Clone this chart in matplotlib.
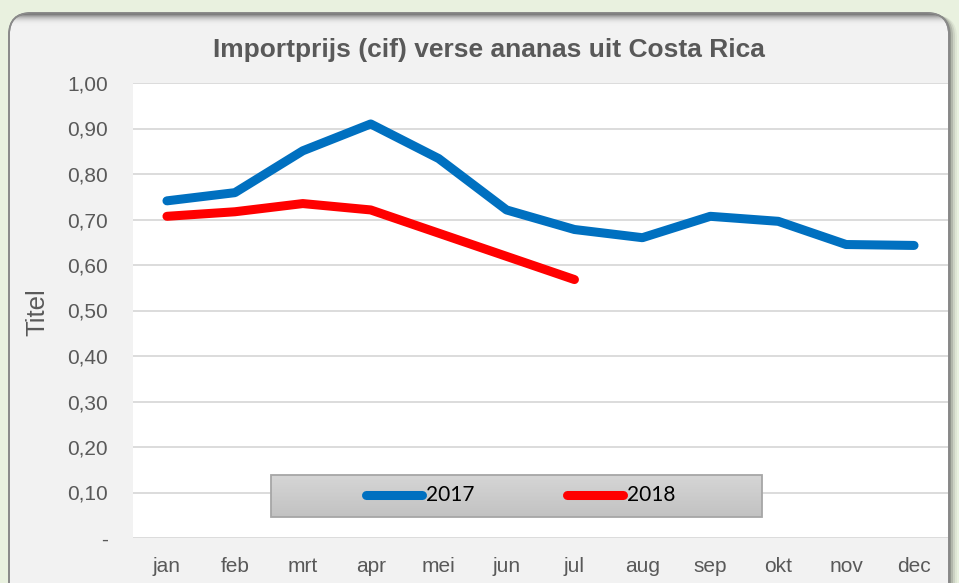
import matplotlib
matplotlib.use("Agg")
import matplotlib.pyplot as plt
from matplotlib.patches import FancyBboxPatch, Rectangle
from matplotlib.lines import Line2D
import numpy as np

months = ["jan", "feb", "mrt", "apr", "mei", "jun", "jul", "aug", "sep", "okt", "nov", "dec"]
prices_2017 = [0.741, 0.759, 0.851, 0.910, 0.834, 0.721, 0.678, 0.660, 0.707, 0.696, 0.645, 0.643]
prices_2018 = [0.707, 0.717, 0.735, 0.721, 0.670, 0.619, 0.568]
yticks = [0.0, 0.1, 0.2, 0.3, 0.4, 0.5, 0.6, 0.7, 0.8, 0.9, 1.0]
ytick_labels = ["-", "0,10", "0,20", "0,30", "0,40", "0,50", "0,60", "0,70", "0,80", "0,90", "1,00"]

W, H = 959, 583
fig = plt.figure(figsize=(W / 100, H / 100), dpi=100)
fig.patch.set_facecolor("#E9F1DF")

def fx(px):
    return px / W

def fy(py):
    return 1 - py / H

# background axes in pixel coordinates
bg = fig.add_axes([0, 0, 1, 1], zorder=0)
bg.set_xlim(0, W)
bg.set_ylim(H, 0)
bg.axis("off")
bg.patch.set_alpha(0)

R = 22
# shadow
for off, a in [(8, 0.06), (6, 0.10), (4, 0.16), (2, 0.25)]:
    bg.add_patch(FancyBboxPatch((9 + off, 13 + off * 0.3), 940, 600,
                                boxstyle=f"round,pad=0,rounding_size={R}",
                                facecolor="#303030", edgecolor="none", alpha=a, zorder=1))
card = FancyBboxPatch((9, 13), 940, 600, boxstyle=f"round,pad=0,rounding_size={R}",
                      facecolor="#F2F2F2", edgecolor="#808080", linewidth=1.2, zorder=2)
bg.add_patch(card)
# top inner shading gradient
grad = np.ones((40, 2, 4))
g = np.linspace(0, 1, 40)
grad[:, :, 0] = 0.35 + 0.6 * g[:, None]
grad[:, :, 1] = grad[:, :, 0]
grad[:, :, 2] = grad[:, :, 0]
grad[:, :, 3] = (1 - g[:, None]) ** 1.5
im = bg.imshow(grad, extent=(9, 949, 26, 13), aspect="auto", zorder=3, interpolation="bilinear")
im.set_clip_path(card)
bg.add_patch(FancyBboxPatch((9, 13), 940, 600, boxstyle=f"round,pad=0,rounding_size={R}",
                            facecolor="none", edgecolor="#8A8A8A", linewidth=1.2, zorder=4))

ax = fig.add_axes([fx(133), fy(538), fx(948 - 133), (538 - 83) / H], zorder=2)
ax.set_facecolor("white")
x = np.arange(len(months))
ax.plot(x, prices_2017, color="#0070C0", lw=6.5, solid_capstyle="round", solid_joinstyle="round", zorder=3)
ax.plot(x[:len(prices_2018)], prices_2018, color="#FF0000", lw=6.5, solid_capstyle="round", solid_joinstyle="round", zorder=3)

ax.set_xlim(-0.5, 11.5)
ax.set_ylim(0, 1.0)
ax.set_yticks(yticks)
ax.set_yticklabels(ytick_labels)
ax.set_xticks(x)
ax.set_xticklabels(months)
ax.grid(axis="y", color="#D9D9D9", lw=1.3)
ax.set_axisbelow(True)
for s in ax.spines.values():
    s.set_visible(False)
ax.tick_params(axis="both", length=0, labelsize=15, labelcolor="#595959")
ax.tick_params(axis="y", pad=18)
ax.tick_params(axis="x", pad=14)
for lab in ax.get_xticklabels() + ax.get_yticklabels():
    lab.set_family("Liberation Sans")

fig.text(fx(37), fy(312), "Titel", rotation=90, ha="center", va="center",
         fontsize=18.5, color="#595959", family="Liberation Sans", zorder=5)

fig.text(fx(489), fy(50), "Importprijs (cif) verse ananas uit Costa Rica", ha="center", va="center",
         fontsize=19, fontweight="bold", color="#595959", family="Liberation Sans", zorder=5)

# legend box
lx0, lx1, ly0, ly1 = 271, 762, 475, 517
n = 30
for i in range(n):
    c = 0.835 - 0.075 * i / (n - 1)
    fig.patches.append(Rectangle((fx(lx0), fy(ly0 + (ly1 - ly0) * (i + 1) / n)), fx(lx1 - lx0),
                                 (ly1 - ly0) / n / H + 0.0005, transform=fig.transFigure,
                                 facecolor=(c, c, c), edgecolor="none", zorder=6))
fig.patches.append(Rectangle((fx(lx0), fy(ly1)), fx(lx1 - lx0), (ly1 - ly0) / H,
                             transform=fig.transFigure, facecolor="none", edgecolor="#A6A6A6",
                             lw=1.3, zorder=7))
for (a, b, col, lab) in [(366, 422, "#0070C0", "2017"), (567, 623, "#FF0000", "2018")]:
    fig.lines.append(Line2D([fx(a), fx(b)], [fy(495), fy(495)], transform=fig.transFigure,
                            color=col, lw=6.5, solid_capstyle="round", zorder=8))
    fig.text(fx(b + 4), fy(495), lab, ha="left", va="center", fontsize=15,
             color="black", family="Lato", zorder=8)

fig.savefig("out.png", dpi=100, facecolor=fig.get_facecolor())
